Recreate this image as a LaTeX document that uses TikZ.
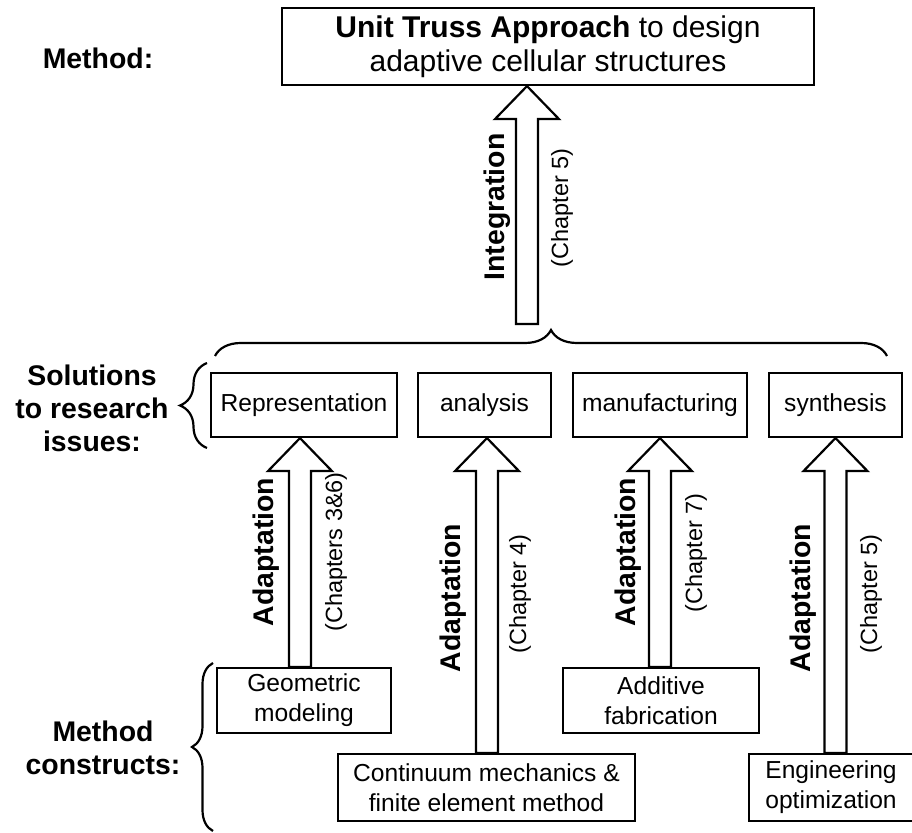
\documentclass[tikz,border=0pt]{standalone}
\usepackage{fontspec}
\setmainfont{Liberation Sans}
\usetikzlibrary{calc,decorations.pathreplacing}

% hollow block arrow: tip node anchor, base anchor, x offset of the tip
\newcommand\hollowup[3]{%
  \draw[fill=white] let \p1=($(#1)+(#3,0)$), \p2=(#2) in
    (\x1-\shaftw,\y2) -- (\x1-\shaftw,\y1-\headl) -- (\x1-\headw,\y1-\headl) -- (\x1,\y1)
    -- (\x1+\headw,\y1-\headl) -- (\x1+\shaftw,\y1-\headl) -- (\x1+\shaftw,\y2) -- cycle;}

\begin{document}
\begin{tikzpicture}[x=0.5pt,y=-0.5pt,line width=1.1pt,
  box/.style={draw,rectangle,inner sep=0pt,align=center,font=\fontsize{12.3}{15}\selectfont},
  side/.style={align=center,font=\bfseries\fontsize{14.2}{16.5}\selectfont},
  vlab/.style={rotate=90,inner sep=0pt,font=\bfseries\fontsize{14.2}{17}\selectfont},
  chap/.style={rotate=90,inner sep=0pt,font=\fontsize{11.75}{14}\selectfont},
  brc/.style={decorate,decoration={brace,amplitude=#1}}]

\def\shaftw{5.5pt}
\def\headw{16pt}
\def\headl{16.5pt}

\useasboundingbox (0,0) rectangle (912,833);

% method
\node[side] (lmeth) at (98,58) {Method:};
\node[box,minimum width=266pt,minimum height=38.5pt,font=\fontsize{15}{16.8}\selectfont] (uta) at (548,46.5)
  {\textbf{Unit Truss Approach} to design\\adaptive cellular structures};

% solutions
\node[side] (lsol) at (92,408) {Solutions\\to research\\issues:};
\node[box,minimum width=93pt,minimum height=32pt] (rep) at (304,405) {Representation};
\node[box,minimum width=66.5pt,minimum height=32pt] (ana) at (484.5,405) {analysis};
\node[box,minimum width=87pt,minimum height=32pt] (man) at (660,405) {manufacturing};
\node[box,minimum width=66.5pt,minimum height=32pt] (syn) at (835.5,405) {synthesis};

% constructs
\node[side] (lcon) at (103,748) {Method\\constructs:};
\node[box,minimum width=87pt,minimum height=32.5pt] (geo) at (304,700.5) {Geometric\\modeling};
\node[box,minimum width=148.5pt,minimum height=33.5pt] (con) at (486.5,787.5) {Continuum mechanics \&\\finite element method};
\node[box,minimum width=98pt,minimum height=32.5pt] (add) at (661,700.5) {Additive\\fabrication};
\node[box,minimum width=82pt,minimum height=33.5pt] (eng) at (831,787.5) {Engineering\\optimization};

% braces
\coordinate (tb1) at (215,356);
\coordinate (tb2) at (887,356);
\coordinate (sb1) at (207,448);
\coordinate (sb2) at (207,363);
\coordinate (mb1) at (213,831);
\coordinate (mb2) at (213,663);
\draw[brc=13pt] (tb1) -- (tb2);
\draw[brc=13.5pt] (sb1) -- (sb2);
\draw[brc=10.5pt] (mb1) -- (mb2);

% arrows
\coordinate (ibase) at (527,324);
\hollowup{uta.south}{ibase}{-21}
\hollowup{rep.south}{geo.north}{-4}
\hollowup{ana.south}{con.north}{2.5}
\hollowup{man.south}{add.north}{0}
\hollowup{syn.south}{eng.north}{0}

\node[vlab] (vint) at (497,207) {Integration};
\node[chap] (cint) at (562,208) {(Chapter 5)};
\node[vlab] (vrep) at (266,552) {Adaptation};
\node[chap] (crep) at (336,552) {(Chapters 3\&6)};
\node[vlab] (vana) at (453,598) {Adaptation};
\node[chap] (cana) at (520,594) {(Chapter 4)};
\node[vlab] (vman) at (628,552) {Adaptation};
\node[chap] (cman) at (696,553) {(Chapter 7)};
\node[vlab] (vsyn) at (803,598) {Adaptation};
\node[chap] (csyn) at (871,594) {(Chapter 5)};
\end{tikzpicture}
\end{document}
